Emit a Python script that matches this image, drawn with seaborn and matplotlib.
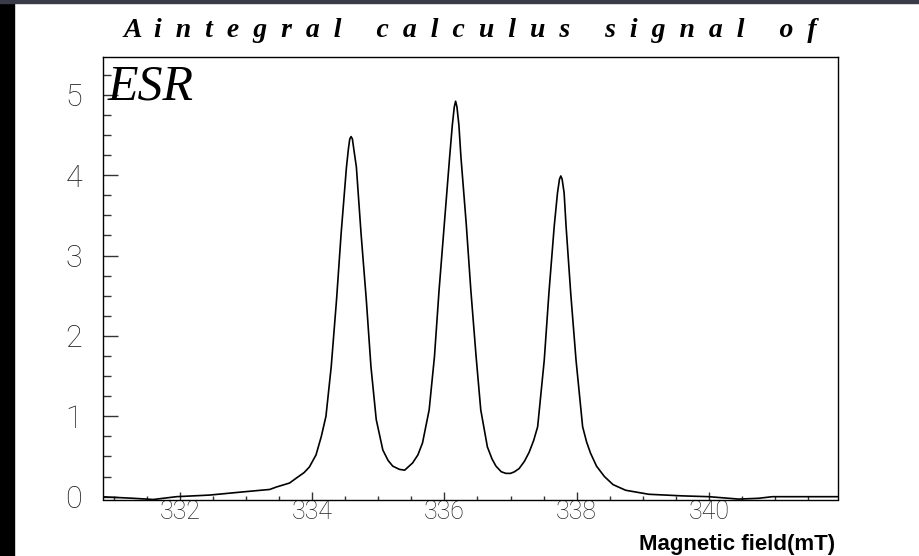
import matplotlib
matplotlib.use("Agg")
import matplotlib.pyplot as plt
import seaborn as sns
from matplotlib.ticker import MultipleLocator
from matplotlib.patches import Rectangle

# Data (magnetic field in mT, integrated ESR signal)
field_mT = [330.80, 331.30, 331.60, 331.95, 332.45, 332.96, 333.36, 333.46, 333.66, 333.76,
            333.88, 333.96, 334.06, 334.14, 334.21, 334.29, 334.37, 334.44, 334.52, 334.55,
            334.57, 334.59, 334.61, 334.63, 334.67, 334.74, 334.82, 334.89, 334.97, 335.07,
            335.15, 335.22, 335.32, 335.40, 335.52, 335.60, 335.67, 335.77, 335.85, 335.92,
            336.00, 336.08, 336.12, 336.15, 336.17, 336.19, 336.22, 336.25, 336.33, 336.40,
            336.48, 336.55, 336.65, 336.72, 336.78, 336.86, 336.93, 337.00, 337.06, 337.13,
            337.21, 337.28, 337.35, 337.41, 337.51, 337.58, 337.66, 337.71, 337.74, 337.76,
            337.78, 337.81, 337.84, 337.91, 337.99, 338.09, 338.15, 338.21, 338.30, 338.42,
            338.55, 338.74, 339.09, 339.60, 340.00, 340.45, 340.75, 340.96, 341.96]
signal = [0.00, -0.02, -0.035, 0.00, 0.02, 0.06, 0.09, 0.12, 0.17, 0.23,
          0.30, 0.37, 0.52, 0.75, 1.00, 1.62, 2.45, 3.28, 4.10, 4.33,
          4.45, 4.48, 4.45, 4.33, 4.10, 3.28, 2.45, 1.62, 0.96, 0.58,
          0.45, 0.38, 0.34, 0.33, 0.42, 0.52, 0.67, 1.08, 1.74, 2.57,
          3.40, 4.23, 4.62, 4.85, 4.92, 4.85, 4.62, 4.23, 3.40, 2.57,
          1.74, 1.08, 0.62, 0.47, 0.38, 0.31, 0.29, 0.29, 0.31, 0.35,
          0.44, 0.55, 0.70, 0.87, 1.70, 2.53, 3.36, 3.78, 3.95, 3.99,
          3.95, 3.78, 3.36, 2.53, 1.70, 0.87, 0.68, 0.54, 0.38, 0.25,
          0.15, 0.08, 0.03, 0.01, 0.00, -0.03, -0.02, 0.00, 0.00]
x_ticks = [332, 334, 336, 338, 340]
y_ticks = [0, 1, 2, 3, 4, 5]
title_text = ("A  i  n  t  e  g  r  a  l     c  a  l  c  u  l  u  s     "
              "s  i  g  n  a  l     o  f")
inset_text = "ESR"
x_label = "Magnetic field(mT)"

sns.set_theme(style="white")
plt.rcParams["font.family"] = ["DejaVu Sans"]

W, H = 920, 556
fig = plt.figure(figsize=(W / 100, H / 100), dpi=100)
fig.patch.set_facecolor("white")

# frame decorations of the screenshot
fig.add_artist(Rectangle((0, 0), 14 / W, 1, transform=fig.transFigure, color="black", zorder=0))
fig.add_artist(Rectangle((0, 1 - 3 / H), 1, 3 / H, transform=fig.transFigure, color="#3a3a48", zorder=0))

left, right, top, bottom = 103, 838, 57, 499.5
ax = fig.add_axes([left / W, 1 - bottom / H, (right - left) / W, (bottom - top) / H])
ax.set_facecolor("white")

sns.lineplot(x=field_mT, y=signal, ax=ax, color="black", linewidth=1.2,
             estimator=None, sort=False)

ax.set_xlim(330.84, 341.95)
ax.set_ylim(-0.035, 5.47)
ax.set_xticks(x_ticks)
ax.set_yticks(y_ticks)
ax.xaxis.set_minor_locator(MultipleLocator(0.5))
ax.yaxis.set_minor_locator(MultipleLocator(0.25))
ax.tick_params(axis="both", which="both", direction="in", color="#333333",
               labelcolor="#222222", left=True, bottom=True, top=False, right=False)
ax.tick_params(axis="y", which="major", length=11, width=1, pad=15, labelsize=22)
ax.tick_params(axis="y", which="minor", length=6, width=1)
ax.tick_params(axis="x", which="major", length=6, width=1, pad=0.5, labelsize=18)
ax.tick_params(axis="x", which="minor", length=3, width=1)
for lab in ax.get_xticklabels() + ax.get_yticklabels():
    lab.set_fontfamily(["Roboto", "DejaVu Sans"])
    lab.set_fontweight("light")
for sp in ax.spines.values():
    sp.set_visible(True)
    sp.set_color("black")
    sp.set_linewidth(1.0)
ax.set_xlabel("")
ax.set_ylabel("")

fig.text(470 / W, 1 - 37 / H, title_text, ha="center", va="baseline",
         fontsize=20, fontstyle="italic", fontweight="bold",
         family=["Liberation Serif", "DejaVu Serif"], color="black")
ax.text(0.006, 0.985, inset_text, transform=ax.transAxes, ha="left", va="top",
        fontsize=36, fontstyle="italic", family=["Liberation Serif", "DejaVu Serif"],
        color="black")
fig.text(835 / W, 1 - 550 / H, x_label, ha="right", va="baseline",
         fontsize=16, fontweight="bold", family=["Liberation Sans", "DejaVu Sans"],
         color="black")

fig.savefig("out.png", dpi=100, facecolor="white")
